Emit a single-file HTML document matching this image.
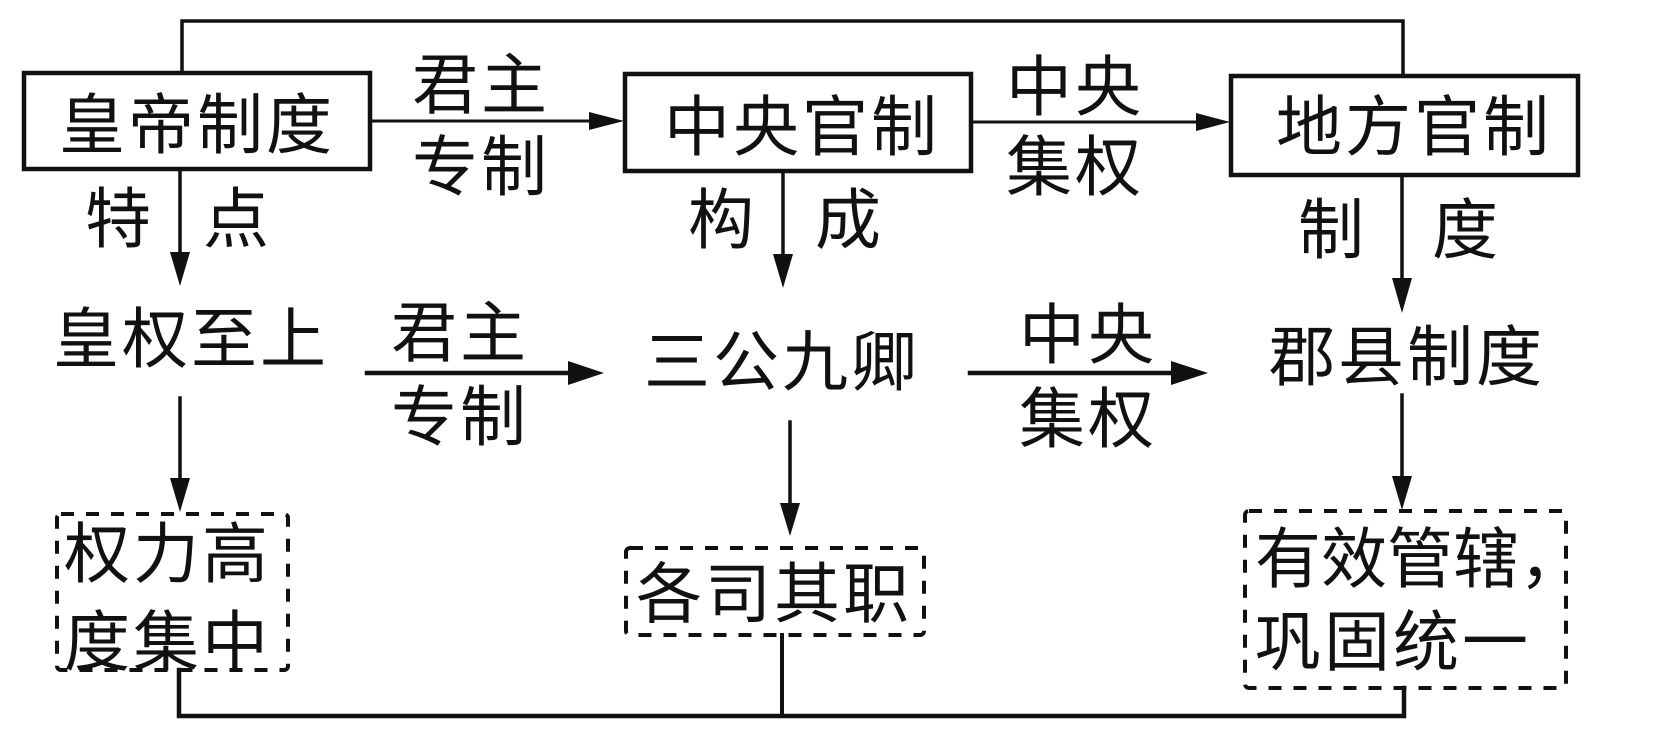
<!DOCTYPE html>
<html>
<head>
<meta charset="utf-8">
<style>
  html, body { margin: 0; padding: 0; background: #fff; }
  body { width: 1680px; height: 744px; overflow: hidden; }
  svg { display: block; }
  text { font-family: "Liberation Sans", "Noto Sans CJK SC", "WenQuanYi Zen Hei", sans-serif; font-size: 66px; fill: #111; letter-spacing: 3px; }
</style>
</head>
<body>
<svg width="1680" height="744" viewBox="0 0 1680 744" xmlns="http://www.w3.org/2000/svg">
  <g stroke="#111" fill="none" stroke-linecap="square">
    <!-- top connector -->
    <polyline points="182,72 182,21 1403,21 1403,75" stroke-width="3.5"/>
    <!-- solid boxes -->
    <rect x="24" y="73" width="346" height="96" stroke-width="4.5"/>
    <rect x="625" y="74" width="346" height="97" stroke-width="4.5"/>
    <rect x="1231" y="76" width="347" height="99" stroke-width="4.5"/>
    <!-- top row horizontal arrows -->
    <line x1="370" y1="121" x2="592" y2="121" stroke-width="3"/>
    <line x1="971" y1="122" x2="1198" y2="122" stroke-width="3"/>
    <!-- top vertical arrows -->
    <line x1="180" y1="169" x2="180" y2="256" stroke-width="3.5"/>
    <line x1="783" y1="172" x2="783" y2="258" stroke-width="3.5"/>
    <line x1="1402" y1="175" x2="1402" y2="282" stroke-width="3.5"/>
    <!-- row2 horizontal arrows -->
    <line x1="367" y1="373" x2="572" y2="373" stroke-width="4.5"/>
    <line x1="970" y1="373" x2="1175" y2="373" stroke-width="4.5"/>
    <!-- lower vertical arrows -->
    <line x1="180" y1="398" x2="180" y2="482" stroke-width="3.5"/>
    <line x1="790" y1="422" x2="790" y2="507" stroke-width="3.5"/>
    <line x1="1402" y1="395" x2="1402" y2="480" stroke-width="3.5"/>
    <!-- dashed boxes -->
    <rect x="57" y="514" width="231" height="156" rx="4" stroke-width="4" stroke-dasharray="13 12" stroke-linecap="butt"/>
    <rect x="626" y="548" width="298" height="87" rx="4" stroke-width="4" stroke-dasharray="13 12" stroke-linecap="butt"/>
    <rect x="1245" y="511" width="321" height="177" rx="4" stroke-width="4" stroke-dasharray="13 12" stroke-linecap="butt"/>
    <!-- bottom connectors -->
    <polyline points="179,670 179,716 1404,716 1404,688" stroke-width="4.5"/>
    <line x1="782" y1="635" x2="782" y2="716" stroke-width="4"/>
  </g>
  <g fill="#111" stroke="none">
    <!-- arrowheads top row -->
    <polygon points="589,112 624,121 589,130"/>
    <polygon points="1196,113 1230,122 1196,131"/>
    <!-- top vertical -->
    <polygon points="170,252 190,252 180,286"/>
    <polygon points="773,254 793,254 783,288"/>
    <polygon points="1392,278 1412,278 1402,313"/>
    <!-- row2 -->
    <polygon points="568,361 604,373 568,385"/>
    <polygon points="1171,361 1208,373 1171,385"/>
    <!-- lower vertical -->
    <polygon points="170,478 190,478 180,512"/>
    <polygon points="780,503 800,503 790,536"/>
    <polygon points="1392,476 1412,476 1402,510"/>
  </g>

  <!-- Box texts -->
  <text x="59" y="148">皇帝制度</text>
  <text x="664" y="150">中央官制</text>
  <text x="1276" y="150">地方官制</text>

  <!-- top labels -->
  <text x="412" y="108">君主</text>
  <text x="412" y="190">专制</text>
  <text x="1006" y="110">中央</text>
  <text x="1006" y="190">集权</text>

  <text x="85" y="242">特</text>
  <text x="203" y="242">点</text>
  <text x="688" y="243">构</text>
  <text x="815" y="243">成</text>
  <text x="1298" y="253">制</text>
  <text x="1432" y="253">度</text>

  <!-- row 2 -->
  <text x="53" y="362">皇权至上</text>
  <text x="391" y="356">君主</text>
  <text x="391" y="440">专制</text>
  <text x="644" y="385">三公九卿</text>
  <text x="1019" y="358">中央</text>
  <text x="1019" y="442">集权</text>
  <text x="1269" y="380">郡县制度</text>

  <!-- dashed box texts -->
  <text x="64" y="577">权力高</text>
  <text x="64" y="665">度集中</text>
  <text x="636" y="617">各司其职</text>
  <text x="1255" y="582" style="letter-spacing:0px">有效管辖，</text>
  <text x="1255" y="665">巩固统一</text>
</svg>
</body>
</html>
